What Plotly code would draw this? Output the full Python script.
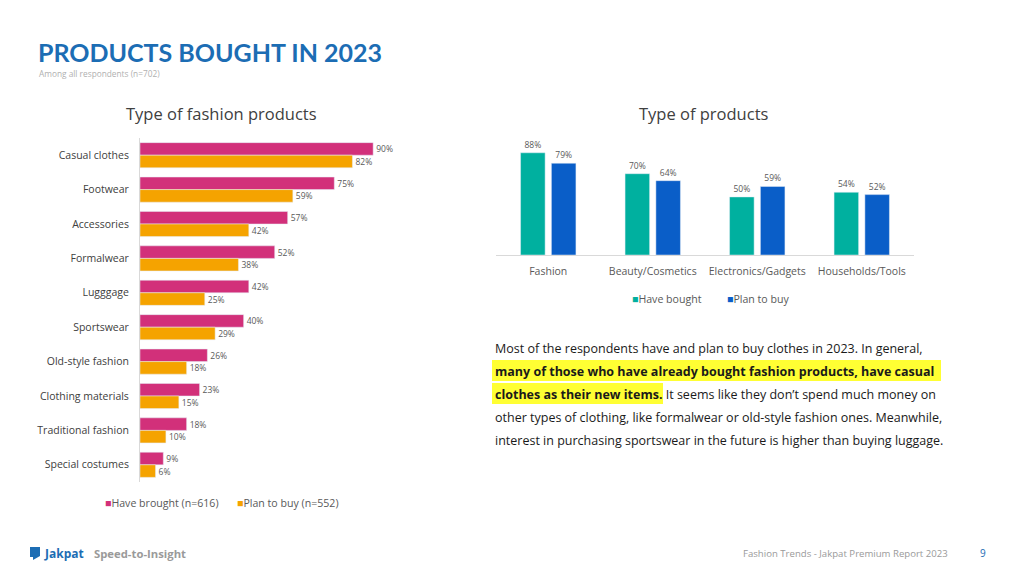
import plotly.graph_objects as go

# The page has an 8px body margin, so the figure is sized to fill the rest of the window
OFF = 8
W, H = 1024 - OFF, 576 - OFF

# ---------------- data ----------------
fashion_categories = ["Casual clothes", "Footwear", "Accessories", "Formalwear", "Lugggage",
                      "Sportswear", "Old-style fashion", "Clothing materials",
                      "Traditional fashion", "Special costumes"]
fashion_have_brought = [90, 75, 57, 52, 42, 40, 26, 23, 18, 9]
fashion_plan_to_buy = [82, 59, 42, 38, 25, 29, 18, 15, 10, 6]
fashion_series_names = ["Have brought (n=616)", "Plan to buy (n=552)"]

product_categories = ["Fashion", "Beauty/Cosmetics", "Electronics/Gadgets", "Households/Tools"]
product_have_bought = [88, 70, 50, 54]
product_plan_to_buy = [79, 64, 59, 52]
product_series_names = ["Have bought", "Plan to buy"]

PINK = "#D2307A"
ORANGE = "#F5A300"
TEAL = "#00B09F"
BLUE = "#0A5EC8"
LABEL = "#595959"
FONT = "Open Sans"


def px(x):
    return (x - OFF) / W


def py(y):
    return 1 - (y - OFF) / H


fig = go.Figure()

# ---------------- left chart ----------------
fig.add_trace(go.Bar(
    y=fashion_categories, x=fashion_have_brought, orientation="h",
    name=fashion_series_names[0], marker_color=PINK,
    text=[f"{v}%" for v in fashion_have_brought], textposition="outside",
    textfont=dict(size=8.5, color=LABEL), cliponaxis=False,
    xaxis="x", yaxis="y"))
fig.add_trace(go.Bar(
    y=fashion_categories, x=fashion_plan_to_buy, orientation="h",
    name=fashion_series_names[1], marker_color=ORANGE,
    text=[f"{v}%" for v in fashion_plan_to_buy], textposition="outside",
    textfont=dict(size=8.5, color=LABEL), cliponaxis=False,
    xaxis="x", yaxis="y"))

# ---------------- right chart ----------------
fig.add_trace(go.Bar(
    x=product_categories, y=product_have_bought, name=product_series_names[0],
    marker_color=TEAL, width=0.235, offset=-0.265,
    text=[f"{v}%" for v in product_have_bought], textposition="outside",
    textfont=dict(size=8.5, color=LABEL), cliponaxis=False,
    xaxis="x2", yaxis="y2"))
fig.add_trace(go.Bar(
    x=product_categories, y=product_plan_to_buy, name=product_series_names[1],
    marker_color=BLUE, width=0.235, offset=0.03,
    text=[f"{v}%" for v in product_plan_to_buy], textposition="outside",
    textfont=dict(size=8.5, color=LABEL), cliponaxis=False,
    xaxis="x2", yaxis="y2"))

fig.update_layout(
    width=W, height=H,
    margin=dict(l=0, r=0, t=0, b=0),
    paper_bgcolor="white", plot_bgcolor="white",
    font=dict(family=FONT, color=LABEL),
    showlegend=False,
    barmode="group", bargap=0.27, bargroupgap=0,
    xaxis=dict(domain=[px(140), px(440)], range=[0, 115.8], visible=False),
    yaxis=dict(domain=[py(482), py(138)], autorange="reversed",
               showline=True, linecolor="#d9d9d9", linewidth=1,
               showgrid=False, ticks="", ticklabelstandoff=8,
               tickfont=dict(size=10.5, color="#404040")),
    xaxis2=dict(domain=[px(496), px(914)], anchor="y2",
                showline=True, linecolor="#d9d9d9", linewidth=1,
                showgrid=False, ticks="", ticklabelstandoff=6,
                tickfont=dict(size=10.5, color=LABEL)),
    yaxis2=dict(domain=[py(255), py(140)], anchor="x2", range=[0, 99], visible=False),
)

# ---------------- highlight boxes ----------------
for (x0, x1, y0, y1) in [(492, 941, 360, 381), (492, 663, 383, 404)]:
    fig.add_shape(type="rect", xref="paper", yref="paper",
                  x0=px(x0), x1=px(x1), y0=py(y1), y1=py(y0),
                  fillcolor="#FFFF33", line_width=0, layer="below")

# ---------------- texts ----------------
ann = []
ann.append(dict(text="<b>PRODUCTS BOUGHT IN 2023</b>", x=px(36), y=py(52), xanchor="left",
                yanchor="middle", font=dict(size=25, color="#1C6DB4", family="Lato")))
ann.append(dict(text="Among all respondents (n=702)", x=px(37), y=py(73), xanchor="left",
                yanchor="middle", font=dict(size=8.3, color="#b0b0b0", family=FONT)))
ann.append(dict(text="Type of fashion products", x=px(221), y=py(114), xanchor="center",
                yanchor="middle", font=dict(size=16.5, color="#404040", family=FONT)))
ann.append(dict(text="Type of products", x=px(704), y=py(114), xanchor="center",
                yanchor="middle", font=dict(size=16.5, color="#404040", family=FONT)))


def legend_item(color, name):
    return f"<span style='color:{color}'>■</span>{name}"


# legends
ann.append(dict(text=legend_item(PINK, fashion_series_names[0]), x=px(103), y=py(503),
                xanchor="left", yanchor="middle", font=dict(size=10.6, color=LABEL, family=FONT)))
ann.append(dict(text=legend_item(ORANGE, fashion_series_names[1]), x=px(235), y=py(503),
                xanchor="left", yanchor="middle", font=dict(size=10.6, color=LABEL, family=FONT)))
ann.append(dict(text=legend_item(TEAL, product_series_names[0]), x=px(630), y=py(299),
                xanchor="left", yanchor="middle", font=dict(size=10.6, color=LABEL, family=FONT)))
ann.append(dict(text=legend_item(BLUE, product_series_names[1]), x=px(725), y=py(299),
                xanchor="left", yanchor="middle", font=dict(size=10.6, color=LABEL, family=FONT)))

para = [
    "Most of the respondents have and plan to buy clothes in 2023. In general,",
    "<b>many of those who have already bought fashion products, have casual</b>",
    "<b>clothes as their new items.</b> It seems like they don’t spend much money on",
    "other types of clothing, like formalwear or old-style fashion ones. Meanwhile,",
    "interest in purchasing sportswear in the future is higher than buying luggage.",
]
for i, line in enumerate(para):
    ann.append(dict(text=line, x=px(493), y=py(348 + i * 23.1), xanchor="left",
                    yanchor="middle", font=dict(size=12.5, color="#1a1a1a", family=FONT)))

# footer
ann.append(dict(text="<b>Jakpat</b>", x=px(42), y=py(553), xanchor="left", yanchor="middle",
                font=dict(size=12, color="#1C6DB4", family=FONT)))
ann.append(dict(text="<b>Speed-to-Insight</b>", x=px(92), y=py(553), xanchor="left",
                yanchor="middle", font=dict(size=11.3, color="#9a9a9a", family=FONT)))
ann.append(dict(text="Fashion Trends - Jakpat Premium Report 2023", x=px(950), y=py(553),
                xanchor="right", yanchor="middle", font=dict(size=9.6, color="#9a9a9a", family=FONT)))
ann.append(dict(text="9", x=px(983), y=py(553), xanchor="center", yanchor="middle",
                font=dict(size=10, color="#1C6DB4", family=FONT)))

for a in ann:
    a.update(xref="paper", yref="paper", showarrow=False)
fig.update_layout(annotations=ann)

# footer logo mark
fig.add_shape(type="path", xref="paper", yref="paper",
              path=f"M {px(30)},{py(547)} L {px(40)},{py(547)} L {px(40)},{py(556)} "
                   f"L {px(33)},{py(560)} L {px(33)},{py(557)} L {px(30)},{py(557)} Z",
              fillcolor="#1C6DB4", line_width=0)

fig.write_html("out.html")
